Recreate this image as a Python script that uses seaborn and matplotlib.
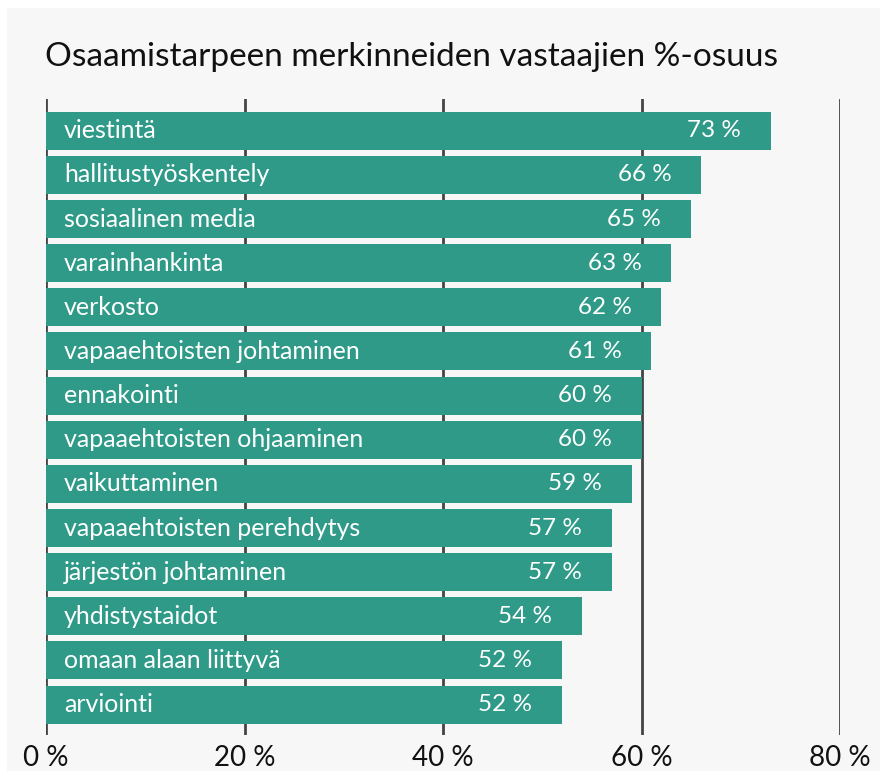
import matplotlib
matplotlib.use("Agg")
import matplotlib.pyplot as plt
import matplotlib.patches as mpatches
import seaborn as sns
import pandas as pd

categories = [
    "viestintä", "hallitustyöskentely", "sosiaalinen media", "varainhankinta",
    "verkosto", "vapaaehtoisten johtaminen", "ennakointi",
    "vapaaehtoisten ohjaaminen", "vaikuttaminen", "vapaaehtoisten perehdytys",
    "järjestön johtaminen", "yhdistystaidot", "omaan alaan liittyvä", "arviointi",
]
values = [73, 66, 65, 63, 62, 61, 60, 60, 59, 57, 57, 54, 52, 52]
x_ticks = [0, 20, 40, 60, 80]
title = "Osaamistarpeen merkinneiden vastaajien %-osuus"

bar_color = "#2e9a87"
bg_color = "#f7f7f7"
grid_color = "#444444"

sns.set_theme(style="white")
plt.rcParams["font.family"] = ["Lato", "DejaVu Sans"]

df = pd.DataFrame({"kategoria": categories, "osuus": values})

fig = plt.figure(figsize=(8.8, 7.71), dpi=100, facecolor="white")
fig.patches.append(mpatches.Rectangle((7 / 880, 0), 1, 1 - 8 / 771,
                                      transform=fig.transFigure,
                                      facecolor=bg_color, edgecolor="none", zorder=-10))

# axes: x 46..840 px, y 99..735 px (from top)
ax = fig.add_axes([46 / 880, 1 - 735 / 771, (840 - 46) / 880, (735 - 99) / 771])
ax.set_facecolor("none")

sns.barplot(data=df, x="osuus", y="kategoria", orient="h", color=bar_color,
            saturation=1, width=0.86, linewidth=0, ax=ax, zorder=3)

ax.set_xlim(0, 80)
ax.set_ylim(13.69, -0.72)
for xt in x_ticks:
    ax.axvline(xt, color=grid_color, linewidth=2, zorder=1)

for i, (cat, val) in enumerate(zip(categories, values)):
    ax.text(1.8, i, cat, color="white", fontsize=18, va="center", ha="left", zorder=4)
    ax.text(val - 3.0, i, f"{val} %", color="white", fontsize=17.5, va="center",
            ha="right", zorder=4)

ax.set_xticks(x_ticks)
ax.set_xticklabels([f"{t} %" for t in x_ticks], fontsize=20, color="#111111")
ax.tick_params(axis="x", length=0, pad=7)
ax.set_yticks([])
ax.set_xlabel("")
ax.set_ylabel("")
for s in ax.spines.values():
    s.set_visible(False)

fig.text(45 / 880, 1 - 57 / 771, title, fontsize=24, color="#111111",
         ha="left", va="center")

fig.savefig("out.png", dpi=100, facecolor=fig.get_facecolor())
